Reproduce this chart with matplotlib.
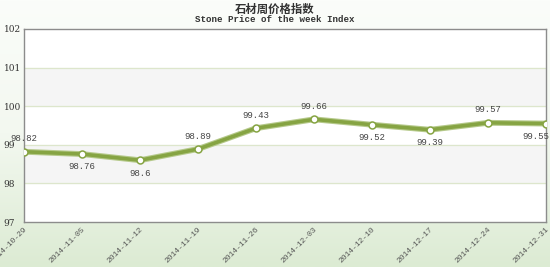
import matplotlib
matplotlib.use("Agg")
import matplotlib.pyplot as plt
from matplotlib.colors import LinearSegmentedColormap
import numpy as np

# data
dates = ["2014-10-29", "2014-11-05", "2014-11-12", "2014-11-19", "2014-11-26",
         "2014-12-03", "2014-12-10", "2014-12-17", "2014-12-24", "2014-12-31"]
index_values = [98.82, 98.76, 98.6, 98.89, 99.43, 99.66, 99.52, 99.39, 99.57, 99.55]
value_labels = ["98.82", "98.76", "98.6", "98.89", "99.43",
                "99.66", "99.52", "99.39", "99.57", "99.55"]
y_ticks = [97, 98, 99, 100, 101, 102]

# label placement (1 = above the point, -1 = below)
label_side = [1, -1, -1, 1, 1, 1, -1, -1, 1, -1]

mono = ["Liberation Mono", "DejaVu Sans Mono"]
line_green = "#86a443"

fig = plt.figure(figsize=(5.5, 2.67), dpi=100)

# pale green gradient background
bg = fig.add_axes([0, 0, 1, 1], zorder=-10)
cmap = LinearSegmentedColormap.from_list("bg", ["#fbfdfa", "#f3f8f0", "#dcebd3"])
grad = np.linspace(0, 1, 256).reshape(-1, 1)
bg.imshow(grad, aspect="auto", cmap=cmap, extent=[0, 1, 0, 1], origin="upper")
bg.axis("off")

ax = fig.add_axes([24 / 550, 1 - 222 / 267, 522 / 550, 193 / 267])
ax.set_facecolor("white")
x = np.arange(len(dates))

# alternating bands
for lo in y_ticks[:-1]:
    if lo in (98, 100):
        ax.axhspan(lo, lo + 1, color="#f5f5f5", zorder=0)
for yv in y_ticks[1:-1]:
    ax.axhline(yv, color="#dde6cc", lw=0.9, zorder=1)

ax.plot(x, index_values, color="#b5c98a", lw=4.2, zorder=2, solid_capstyle="round")
ax.plot(x, index_values, color=line_green, lw=2.6, zorder=3,
        marker="o", markersize=5, markerfacecolor="white",
        markeredgecolor=line_green, markeredgewidth=1.1)

for i, (xi, yi, lab, side) in enumerate(zip(x, index_values, value_labels, label_side)):
    dx = -7 if i == len(x) - 1 else 0  # keep the last label inside the figure
    ax.annotate(lab, (xi, yi), xytext=(dx, 6 * side), textcoords="offset points",
                ha="center", va="bottom" if side > 0 else "top",
                fontsize=6.5, family=mono, color="#444444", zorder=5,
                annotation_clip=False)

ax.set_xlim(0, len(dates) - 1)
ax.set_ylim(97, 102)
ax.set_yticks(y_ticks)
ax.set_yticklabels([str(t) for t in y_ticks], fontsize=6.5, family="DejaVu Serif",
                   color="#333333", ha="left")
ax.tick_params(axis="y", length=0, pad=14.5)

ax.set_xticks(x)
ax.set_xticklabels(dates, rotation=45, ha="right", rotation_mode="anchor",
                   fontsize=5.8, family=mono, color="#555555")
ax.tick_params(axis="x", length=0, pad=3)

for s in ax.spines.values():
    s.set_color("#8c8c8c")
    s.set_linewidth(1.0)

fig.text(0.5, 1 - 9 / 267, "石材周价格指数", ha="center", va="center",
         fontsize=8.2, weight="bold", family=["Noto Sans CJK SC", "DejaVu Sans"],
         color="#333333")
fig.text(0.5, 1 - 20 / 267, "Stone Price of the week Index", ha="center", va="center",
         fontsize=6.6, family=mono, weight="bold", color="#333333")

fig.savefig("out.png", dpi=100)
